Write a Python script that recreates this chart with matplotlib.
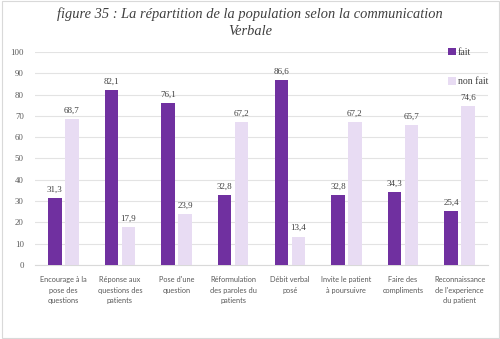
import numpy as np
import matplotlib.pyplot as plt
from matplotlib.patches import Rectangle

categories = ["Encourage à la\npose des\nquestions", "Réponse aux\nquestions des\npatients",
              "Pose d'une\nquestion", "Réformulation\ndes paroles du\npatients",
              "Débit verbal\nposé", "Invite le patient\nà poursuivre",
              "Faire des\ncompliments", "Reconnaissance\nde l'experience\ndu patient"]
fait = [31.3, 82.1, 76.1, 32.8, 86.6, 32.8, 34.3, 25.4]
non_fait = [68.7, 17.9, 23.9, 67.2, 13.4, 67.2, 65.7, 74.6]
yticks = [0, 10, 20, 30, 40, 50, 60, 70, 80, 90, 100]

c_fait = "#7030A0"
c_non = "#E8DCF3"

fig = plt.figure(figsize=(5, 3.39), dpi=100)
ax = fig.add_axes([0.07, 0.218, 0.906, 0.629])

x = np.arange(len(categories))
w = 0.24
b1 = ax.bar(x - 0.15, fait, w, color=c_fait, label="fait", zorder=3)
b2 = ax.bar(x + 0.15, non_fait, w, color=c_non, label="non fait", zorder=3)

def fmt(v):
    return f"{v:.1f}".replace(".", ",")

for bars, vals in ((b1, fait), (b2, non_fait)):
    for r, v in zip(bars, vals):
        ax.text(r.get_x() + r.get_width() / 2, v + 2, fmt(v), ha="center", va="bottom",
                fontsize=6.5, family="Liberation Serif", color="#404040")

ax.set_xlim(-0.5, len(categories) - 0.5)
ax.set_ylim(0, 100)
ax.set_yticks(yticks)
ax.set_yticklabels([str(t) for t in yticks], family="Liberation Serif", fontsize=6.3, color="#595959")
ax.set_xticks(x)
ax.set_xticklabels(categories, family="Lato", fontsize=5.3, color="#595959", linespacing=1.55)
ax.tick_params(axis="y", length=0, pad=8)
ax.tick_params(axis="x", length=0, pad=8)
ax.grid(axis="y", color="#E3E3E3", lw=0.8, zorder=0)
for s in ("top", "right", "left"):
    ax.spines[s].set_visible(False)
ax.spines["bottom"].set_color("#D9D9D9")

leg = ax.legend(loc="upper right", bbox_to_anchor=(1.02, 1.06), frameon=False,
                prop={"family": "Liberation Serif", "size": 7}, labelspacing=2.1,
                handlelength=0.8, handleheight=0.8, handletextpad=0.2, labelcolor="#404040")

fig.text(0.5, 0.978, "figure 35 : La répartition de la population selon la communication\nVerbale",
         ha="center", va="top", family="Liberation Serif", style="italic", fontsize=10.4,
         color="#404040", linespacing=1.35)

fig.patches.append(Rectangle((0.003, 0.003), 0.994, 0.994, transform=fig.transFigure,
                             fill=False, ec="#D9D9D9", lw=0.8))

fig.savefig("out.png", dpi=100)
